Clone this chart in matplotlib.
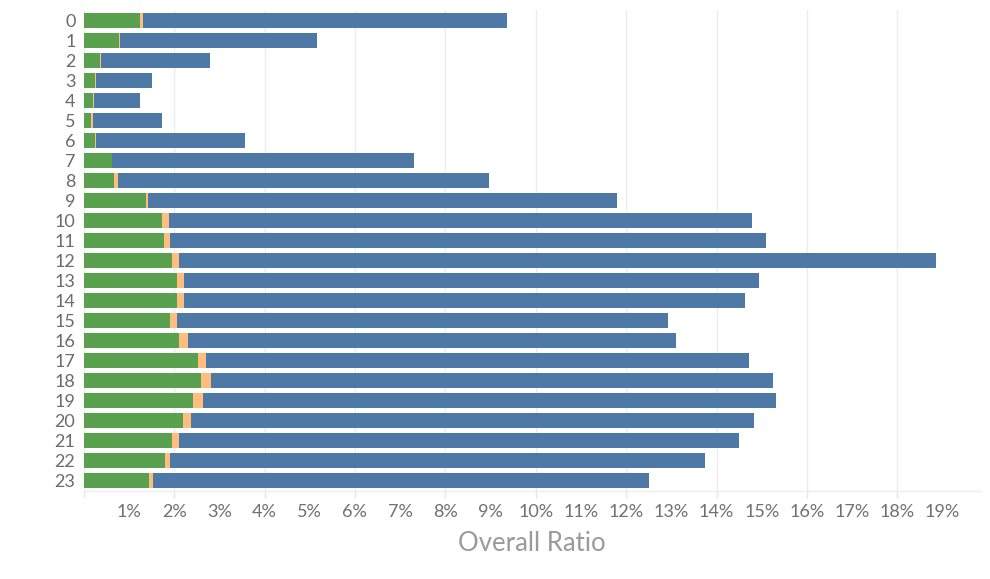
import matplotlib
matplotlib.use("Agg")
import matplotlib.pyplot as plt
from matplotlib.ticker import FixedLocator, FuncFormatter

plt.rcParams['font.family'] = ['Lato', 'DejaVu Sans']

hours = [str(h) for h in range(24)]
green = [1.24, 0.78, 0.36, 0.25, 0.20, 0.15, 0.24, 0.62, 0.66, 1.38, 1.73, 1.77,
         1.95, 2.06, 2.06, 1.91, 2.11, 2.53, 2.59, 2.42, 2.19, 1.95, 1.80, 1.44]
orange = [0.07, 0.02, 0.02, 0.01, 0.02, 0.05, 0.02, 0.01, 0.09, 0.04, 0.15, 0.13,
          0.15, 0.15, 0.15, 0.15, 0.20, 0.18, 0.22, 0.22, 0.18, 0.15, 0.11, 0.09]
blue = [8.05, 4.37, 2.41, 1.24, 1.02, 1.53, 3.30, 6.68, 8.21, 10.38, 12.90, 13.19,
        16.75, 12.73, 12.42, 10.86, 10.79, 12.01, 12.44, 12.67, 12.46, 12.39, 11.83, 10.97]
label_ticks = list(range(1, 20))
grid_ticks = list(range(0, 19, 2))
x_title = "Overall Ratio"

c_green = "#59a14f"
c_orange = "#ffbe7d"
c_blue = "#4e79a7"

fig = plt.figure(figsize=(9.9, 5.79), dpi=100)
ax = fig.add_axes([0.0846, 0.1528, 0.9053, 0.8291])

y = list(range(len(hours)))
left2 = [g + o for g, o in zip(green, orange)]
ax.barh(y, green, height=0.75, color=c_green, zorder=3)
ax.barh(y, orange, left=green, height=0.75, color=c_orange, zorder=3)
ax.barh(y, blue, left=left2, height=0.75, color=c_blue, zorder=3)

ax.set_ylim(len(hours) - 0.5, -0.5)
ax.set_xlim(0, 19.83)

ax.set_yticks(y)
ax.set_yticklabels(hours)
ax.tick_params(axis='y', length=0, pad=6, labelsize=13, labelcolor='#6b6b6b')

ax.xaxis.remove_overlapping_locs = False
ax.xaxis.set_major_locator(FixedLocator(label_ticks))
ax.xaxis.set_major_formatter(FuncFormatter(lambda v, p: f"{int(round(v))}%"))
ax.xaxis.set_minor_locator(FixedLocator(grid_ticks))
ax.tick_params(axis='x', which='major', length=0, pad=9.5, labelsize=13, labelcolor='#707070')
ax.tick_params(axis='x', which='minor', length=5, width=1, color='#e6e6e6')
ax.grid(which='minor', axis='x', color='#ececec', linewidth=1, zorder=0)
ax.grid(which='major', visible=False)

for s in ['top', 'right', 'left']:
    ax.spines[s].set_visible(False)
ax.spines['bottom'].set_color('#eeeeee')
ax.spines['bottom'].set_linewidth(1)

ax.set_xlabel(x_title, fontsize=18.5, color='#9a9a9a', labelpad=8)

fig.savefig("out.png", dpi=100)
